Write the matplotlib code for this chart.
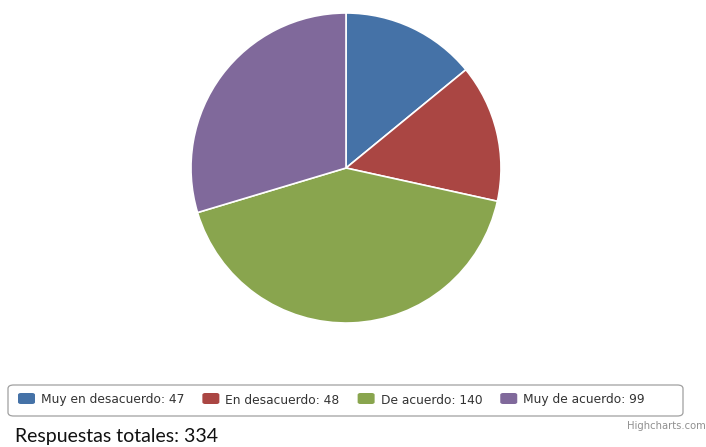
import matplotlib
matplotlib.use("Agg")
import matplotlib.pyplot as plt
from matplotlib.patches import FancyBboxPatch

categories = ["Muy en desacuerdo", "En desacuerdo", "De acuerdo", "Muy de acuerdo"]
counts = [47, 48, 140, 99]
colors = ["#4572A7", "#AA4643", "#89A54E", "#80699B"]

W, H = 706, 447
fig = plt.figure(figsize=(W / 100, H / 100), dpi=100)
fig.patch.set_facecolor("white")

# pie: centre (346, 168) px from top, radius 155 px
cx, cy, r = 346, 168, 155
ax = fig.add_axes([(cx - r) / W, (H - cy - r) / H, 2 * r / W, 2 * r / H])
ax.pie(counts, colors=colors, startangle=90, counterclock=False, radius=1,
       wedgeprops=dict(edgecolor="white", linewidth=1.2))
ax.set_xlim(-1, 1)
ax.set_ylim(-1, 1)
ax.axis("off")

# legend frame
frame = FancyBboxPatch((8 / W, (H - 416) / H), 675 / W, 31 / H,
                       boxstyle="round,pad=0,rounding_size=0.008",
                       transform=fig.transFigure, facecolor="white",
                       edgecolor="#a0a0a0", linewidth=0.9)
fig.patches.append(frame)

renderer = fig.canvas.get_renderer()
x = 18
ly = (H - 400) / H
for cat, n, c in zip(categories, counts, colors):
    sq = FancyBboxPatch((x / W, (H - 404) / H), 17 / W, 11 / H,
                        boxstyle="round,pad=0,rounding_size=0.004",
                        transform=fig.transFigure, facecolor=c, edgecolor="none")
    fig.patches.append(sq)
    t = fig.text((x + 23) / W, ly, f"{cat}: {n}", fontsize=8.8, color="#333333",
                 va="center", ha="left", family="DejaVu Sans")
    bb = t.get_window_extent(renderer)
    x = x + 23 + bb.width + 18

total = sum(counts)
fig.text(15 / W, (H - 442) / H, f"Respuestas totales: {total}", fontsize=14,
         color="#111111", va="baseline", ha="left", family="Lato")
fig.text(706 / W, (H - 426) / H, "Highcharts.com", fontsize=7.2, color="#909090",
         va="center", ha="right", family="DejaVu Sans")

fig.savefig("out.png", dpi=100, facecolor="white")
